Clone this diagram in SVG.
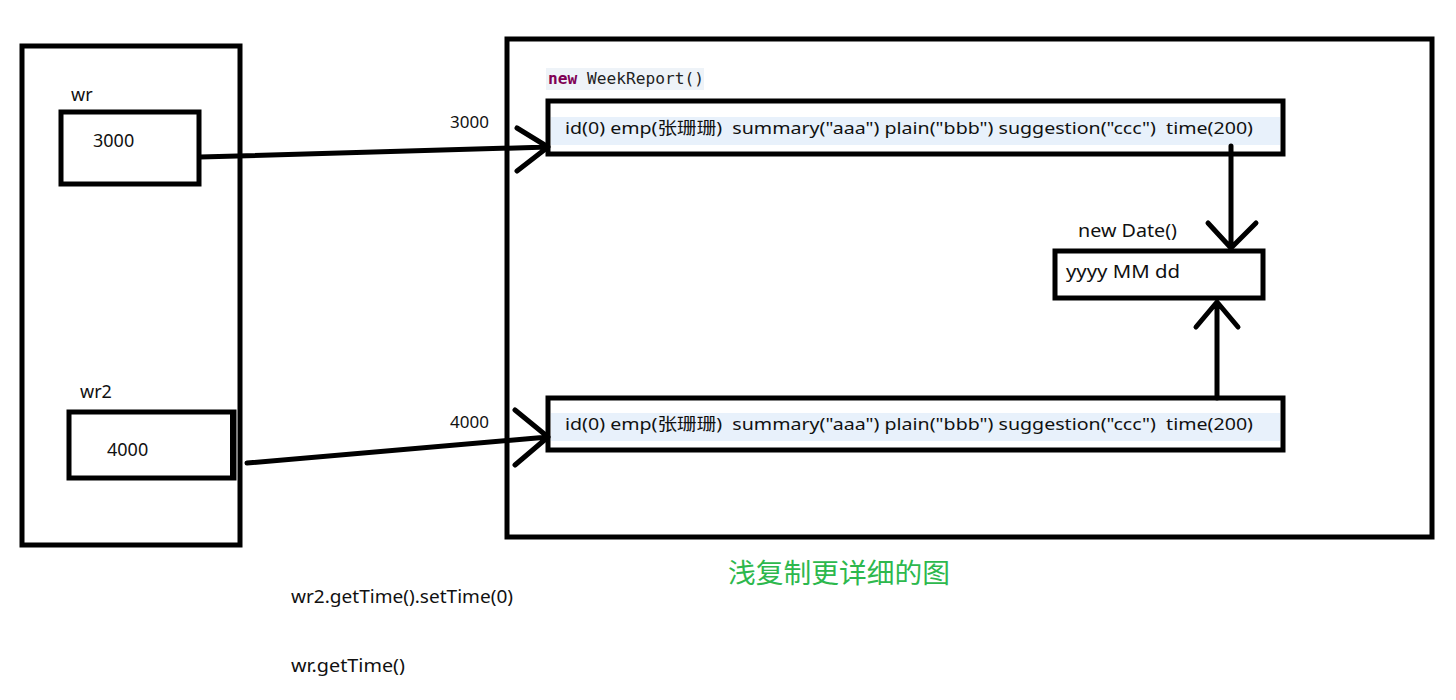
<svg xmlns="http://www.w3.org/2000/svg" width="1456" height="700" viewBox="0 0 1456 700">
<style>
.box{fill:none;stroke:#000;stroke-width:5}
.wbox{fill:#fff;stroke:#000;stroke-width:5}
.t{font-family:"Noto Sans","Liberation Sans","Noto Sans CJK SC",sans-serif;fill:#111}
.pre{white-space:pre}
.line{fill:none;stroke:#000;stroke-width:5;stroke-linecap:round;stroke-linejoin:round}
.band{fill:#e8f1fb}
</style>
<rect width="1456" height="700" fill="#fff"/>
<g id="stack">
<rect class="box" x="22" y="46" width="218" height="499"/>
</g>
<g id="wr">
<text class="t" x="71" y="101" font-size="18">wr</text>
<rect class="wbox" x="61" y="112" width="138" height="72"/>
<text class="t" x="93" y="147" font-size="18">3000</text>
</g>
<g id="wr2">
<text class="t" x="80" y="398" font-size="18">wr2</text>
<rect class="wbox" x="69" y="412" width="165" height="66"/>
<rect x="230" y="412" width="6" height="66" fill="#000"/>
<text class="t" x="107" y="456" font-size="18">4000</text>
</g>
<g id="heap">
<rect class="box" x="507" y="39" width="925" height="498"/>
<rect x="546" y="68" width="158" height="22" fill="#eef3f8"/>
<text x="548" y="84" font-family="'DejaVu Sans Mono','Liberation Mono',monospace" font-size="15" textLength="156" lengthAdjust="spacingAndGlyphs"><tspan font-weight="bold" fill="#7f0055">new</tspan><tspan fill="#222"> WeekReport()</tspan></text>
</g>
<g id="obj1">
<rect class="wbox" x="548" y="101" width="735" height="53"/>
<rect class="band" x="551" y="117" width="729" height="28"/>
<text class="t pre" xml:space="preserve" x="565" y="134" font-size="17" textLength="688" lengthAdjust="spacingAndGlyphs">id(0) emp(张珊珊)  summary("aaa") plain("bbb") suggestion("ccc")  time(200)</text>
</g>
<g id="obj2">
<rect class="wbox" x="548" y="398" width="735" height="52"/>
<rect class="band" x="551" y="413" width="729" height="28"/>
<text class="t pre" xml:space="preserve" x="565" y="430" font-size="17" textLength="688" lengthAdjust="spacingAndGlyphs">id(0) emp(张珊珊)  summary("aaa") plain("bbb") suggestion("ccc")  time(200)</text>
</g>
<g id="date">
<text class="t" x="1078" y="237" font-size="18" textLength="99" lengthAdjust="spacingAndGlyphs">new Date()</text>
<rect class="wbox" x="1055" y="251" width="208" height="47"/>
<text class="t" x="1066" y="278" font-size="18" textLength="114" lengthAdjust="spacingAndGlyphs">yyyy MM dd</text>
</g>
<g id="connectors">
<path class="line" d="M200 157 L548 147 M517 128 L548 147 L517 171"/>
<path class="line" d="M247 463 L548 437 M515 410 L548 437 L515 465"/>
<path class="line" d="M1231 146 L1231 248 M1208 223 L1231 248 L1256 223"/>
<path class="line" d="M1217 398 L1217 302 M1196 327 L1217 302 L1238 327"/>
<text class="t" x="450" y="128" font-size="17">3000</text>
<text class="t" x="450" y="428" font-size="17">4000</text>
</g>
<g id="notes">
<text x="728" y="583" font-family="'Noto Sans CJK SC',sans-serif" font-size="27" fill="#2db84d" textLength="222" lengthAdjust="spacingAndGlyphs">浅复制更详细的图</text>
<text class="t" x="291" y="603" font-size="18" textLength="222" lengthAdjust="spacingAndGlyphs">wr2.getTime().setTime(0)</text>
<text class="t" x="291" y="672" font-size="18" textLength="114" lengthAdjust="spacingAndGlyphs">wr.getTime()</text>
</g>
</svg>
